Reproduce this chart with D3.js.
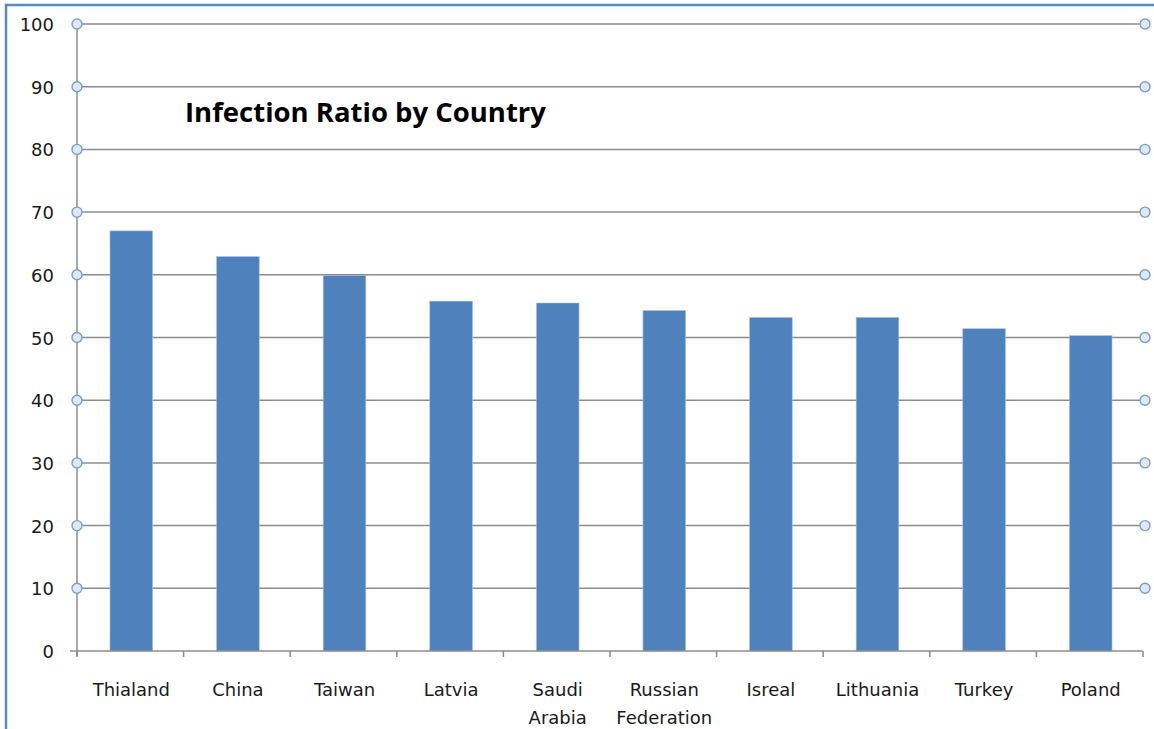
<!DOCTYPE html>
<html>
<head>
<meta charset="utf-8">
<script src="https://cdn.jsdelivr.net/npm/d3@7"></script>
<style>
  body { margin: 0; background: #fff; }
  svg text { font-family: "DejaVu Sans", Verdana, sans-serif; fill: #1a1a1a; }
  .title { font-family: "Open Sans", sans-serif; font-weight: bold; fill: #000; }
</style>
</head>
<body>
<svg id="chart" width="1154" height="729"></svg>
<script>
// values
var countries = ["Thialand", "China", "Taiwan", "Latvia", "Saudi Arabia", "Russian Federation", "Isreal", "Lithuania", "Turkey", "Poland"];
var ratios = [67.0, 62.9, 59.9, 55.8, 55.5, 54.3, 53.2, 53.2, 51.4, 50.3];
var yTicks = [0, 10, 20, 30, 40, 50, 60, 70, 80, 90, 100];

(function() {
    var svg = d3.select("#chart");
    var left = 77, right = 1143, top = 24, bottom = 651;

    var data = countries.map((c, i) => ({ name: c, value: ratios[i] }));

    var x = d3.scaleBand()
        .domain(countries)
        .range([left, right])
        .paddingInner(0.6)
        .paddingOuter(0.3);

    var y = d3.scaleLinear()
        .domain([0, 100])
        .range([bottom, top]);

    //blue frame of the chart area
    svg.append("path")
        .attr("d", `M6,729 V5 H1154`)
        .attr("fill", "none")
        .attr("stroke", "#5b87c4")
        .attr("stroke-width", 2.5);

    //gridlines
    svg.append("g")
        .selectAll("line")
        .data(yTicks.filter(d => d > 0))
        .join("line")
            .attr("x1", left).attr("x2", right + 2)
            .attr("y1", d => y(d)).attr("y2", d => y(d))
            .attr("stroke", "#8c8c8c")
            .attr("stroke-width", 1.5);

    //bars
    svg.append("g")
        .selectAll("rect")
        .data(data)
        .join("rect")
            .attr("x", d => x(d.name) + 1)
            .attr("y", d => y(d.value))
            .attr("width", x.bandwidth())
            .attr("height", d => bottom - y(d.value))
            .attr("fill", "#4f81bd")
            .attr("stroke", "#a9c0df")
            .attr("stroke-width", 0.6);

    //y axis line + zero tick
    svg.append("line")
        .attr("x1", left).attr("x2", left)
        .attr("y1", top).attr("y2", bottom + 5)
        .attr("stroke", "#8c8c8c").attr("stroke-width", 1.5);
    svg.append("line")
        .attr("x1", left - 7).attr("x2", right)
        .attr("y1", bottom).attr("y2", bottom)
        .attr("stroke", "#8c8c8c").attr("stroke-width", 1.5);

    //x category ticks
    var edges = d3.range(countries.length + 1).map(i => left + i * x.step());
    svg.append("g")
        .selectAll("line")
        .data(edges)
        .join("line")
            .attr("x1", d => d).attr("x2", d => d)
            .attr("y1", bottom).attr("y2", bottom + 6)
            .attr("stroke", "#8c8c8c").attr("stroke-width", 1.5);

    //circle markers at both ends of the gridlines
    [left, right + 2].forEach(cx => {
        svg.append("g")
            .selectAll("circle")
            .data(yTicks.filter(d => d > 0))
            .join("circle")
                .attr("cx", cx).attr("cy", d => y(d))
                .attr("r", 5)
                .attr("fill", "#dce8f3")
                .attr("stroke", "#7f9fbf")
                .attr("stroke-width", 1.4);
    });

    //y tick labels
    svg.append("g")
        .selectAll("text")
        .data(yTicks)
        .join("text")
            .attr("x", 54)
            .attr("y", d => y(d) + 7)
            .attr("text-anchor", "end")
            .attr("font-size", 18)
            .text(d => d);

    //x labels, wrapped on spaces
    var labels = svg.append("g")
        .selectAll("text")
        .data(countries)
        .join("text")
            .attr("x", d => x(d) + x.bandwidth() / 2)
            .attr("y", 696)
            .attr("text-anchor", "middle")
            .attr("font-size", 18);
    labels.each(function(d) {
        var words = d.split(" ");
        d3.select(this).selectAll("tspan")
            .data(words)
            .join("tspan")
                .attr("x", x(d) + x.bandwidth() / 2 + 1)
                .attr("dy", (w, i) => i === 0 ? 0 : 28)
                .text(w => w);
    });

    svg.append("text")
        .attr("class", "title")
        .attr("x", 185)
        .attr("y", 122)
        .attr("font-size", 27.5)
        .text("Infection Ratio by Country");
})();
</script>
</body>
</html>
